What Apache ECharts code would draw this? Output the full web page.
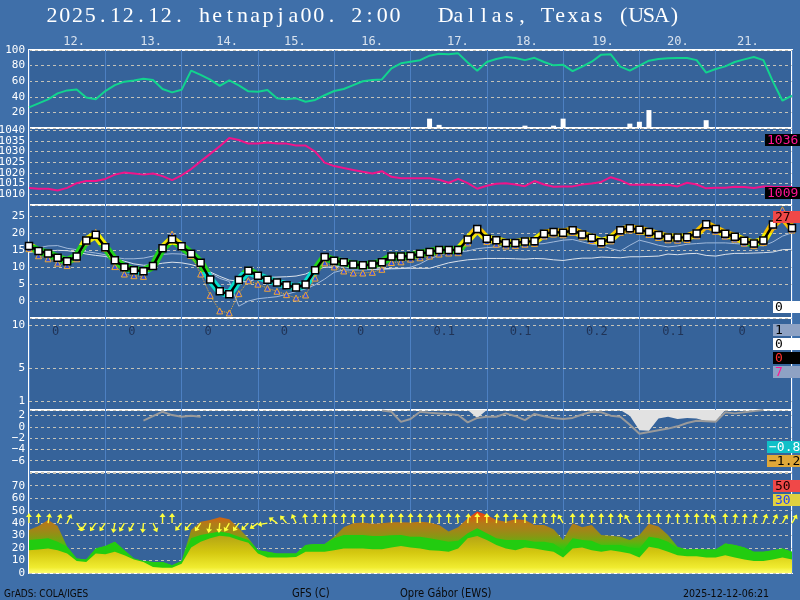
<!DOCTYPE html>
<html><head><meta charset="utf-8">
<script src="https://cdn.jsdelivr.net/npm/echarts@6/dist/echarts.min.js"></script>
<style>html,body{margin:0;padding:0;background:#3f6fa9;}#c{width:800px;height:600px;}</style>
</head><body><div id="c"></div>
<script>
// ---------- data (3-hourly steps, 81 values, hour = step*3) ----------
const humidity = [26.4,31.5,36.7,44.4,48.2,49.5,39,37,47.4,55,
 59.4,61,63,61.5,50,45.7,49,73.5,68,62,
 54,61,54.6,47,46.5,48.7,38,37,38,33.7,
 36,42,47.4,50,55,60,61.5,62.3,76.5,83,
 85,87,92.7,95.3,94.4,95.7,84,73.5,84.6,88.4,
 91,89.7,87,90,84.6,80.3,81,73,78.6,85,
 94,94.4,78.6,73.5,80,86.3,88.4,89.3,89.7,89.7,
 87,71,75.6,79,84.6,88,91,87,59.4,35,41.4];
const precipBarSteps = [42,43,52,55,56,63,64,65,71];
const precipBarValues = [12,4,3,3,12,5.6,8,23,10];
const pressure = [1012.9,1012.6,1012.6,1011.8,1013,1015.2,1016.2,1016.2,1017.2,1019.2,
 1020.2,1019.7,1019.2,1019.7,1018.5,1016.6,1018.9,1021.8,1025.4,1028.9,
 1032.5,1036.3,1035.4,1033.7,1033.7,1034.2,1033.8,1033.7,1032.8,1032.8,
 1030,1024.8,1023.2,1022.3,1021.4,1020.5,1019.7,1020.8,1018.2,1017.5,
 1017.5,1017.5,1017.5,1016.8,1015.4,1017.2,1015.2,1012.6,1014,1014.9,
 1015.2,1014.6,1013.8,1016.2,1014.6,1013.5,1013.7,1013.7,1014.6,1015.1,
 1015.8,1018,1016.6,1014.5,1014.5,1014.6,1014.2,1014.5,1013.7,1015.4,
 1014.6,1012.8,1013.1,1013.1,1013.5,1013.4,1012.9,1013.7,1013.5,1013.4,1013.4];
const tempMain = [16.3,14.8,14.1,12.8,11.8,13.2,17.9,19.6,15.9,12.1,
 10,9.1,8.8,10.4,15.6,18.3,16.2,14,11.3,6.4,
 2.9,2,6.2,9,7.5,6.3,5.5,4.7,4,4.9,
 9.1,13,11.9,11.5,10.8,10.6,10.8,11.5,13.2,13.2,
 13.3,14,14.5,15.1,15.1,15.1,18.2,21.3,18.4,18,
 17.2,17.2,17.6,17.7,19.9,20.4,20.2,20.9,19.7,18.7,
 17.4,18.4,20.9,21.5,21.1,20.4,19.5,18.8,18.8,18.9,
 20,22.7,21.3,19.9,19,17.8,17,17.9,22.6,25,21.6];
const tempLow = [15.5,13.4,12.5,11.2,10.5,12.5,17.5,20.3,15.6,10.2,
 8,7.5,7.3,10.5,16,19.8,16.4,13.5,8,1.7,
 -2.9,-3.5,2.2,6,5,3.8,2.9,1.9,0.9,1.8,
 6.8,11.3,10.1,8.9,8.3,8.3,8.5,9.4,11.4,11.6,
 12.4,12.8,13.3,13.9,14.2,14.3,17.2,20.8,17.6,16.8,
 16.3,16.4,16.8,17,19.2,19.8,19.6,20.3,19,17.9,
 16.8,17.8,20.3,21,20.6,19.7,18.8,18.1,18,18.2,
 19.3,22.1,20.6,19.2,18.3,17.1,16.4,17.3,22.1,27,21];
const tempLineA = [15.1,15.8,16.3,16.4,15.6,15.2,14.6,14.2,13.7,12.9,
 12.5,12.5,12.7,13.3,13.8,14,13.9,13.2,11.5,8.3,
 6.7,5.8,-1.5,0,0.7,1,1.3,2,2.8,3.6,
 4.8,6.5,8.5,9.2,9.2,9.2,9.3,9.4,9.5,9.6,
 10,11,12.5,13.5,14.3,14.5,14.8,15.5,15.8,16,
 16.2,16.3,16.5,16.8,17,17.5,18,18.2,17.5,16.8,
 16.5,15.5,14.8,16.5,18,17.3,16.5,16,16.3,16.8,
 17,17.2,17.2,17.2,17,16.8,16.5,16.3,17.5,19.2,20.2];
const tempLineB = [14.4,14.6,14.8,15,14.9,14.5,13.9,13.5,13.2,12.5,
 11.8,11,10.6,10.7,11.2,11.5,11.3,10.8,10,8.6,
 7.3,6.2,5.9,5.6,6.9,7,7.1,7.2,7.4,8,
 9.3,10,10.1,10.2,9.8,9.5,9.5,9.5,9.7,9.7,
 9.7,9.7,9.7,10.5,11.3,11.8,12.2,12.4,12.6,12.6,
 12.6,12.5,12.4,12.6,12.5,12.2,12,12.4,12.7,12.7,
 13,12.9,12.8,13.1,13.1,13.2,13.3,13.9,13.7,14,
 14.1,13.5,13.3,13.8,14.1,14.1,14.2,14.3,14.5,15.2,15.3];
const dailyPrecip = ['0','0','0','0','0','0.1','0.1','0.2','0.1','0'];
const dayLabels = ['12.','13.','14.','15.','16.','17.','18.','19.','20.','21.'];
const dayLabelHours = [14.2,38.4,62.3,83.6,107.9,134.9,156.6,180.5,204.1,226.1];
const N = null;
const indexLine = [N,N,N,N,N,N,N,N,N,N, N,N,1.1,1.9,2.7,2.1,1.8,2.0,1.8,N,
 N,N,N,N,N,N,N,N,N,N, N,N,N,N,N,N,N,2.9,2.7,0.9,
 1.4,2.7,2.5,2.4,2.3,2.1,0.8,1.6,1.8,1.8, 2.4,1.9,1.2,2.3,1.9,1.6,1.4,1.6,2.2,2.7,
 2.6,2.0,1.8,0.4,-1.2,-0.9,-0.6,-0.3,0.1,0.7, 1.1,1.0,0.9,2.6,2.4,2.6,2.8,3.0,N,N,N];
const cloudEdge = [N,N,N,N,N,N,N,N,N,N, N,N,N,N,N,N,N,N,N,N,
 N,N,N,N,N,N,N,N,N,N, N,N,N,N,N,N,N,N,N,N,
 N,N,N,N,N,N,3,1.6,3,N, N,N,N,N,N,N,N,N,N,N,
 N,N,3,2.0,-0.6,-0.7,1.5,1.8,1.4,1.6, 1.5,1.0,1.0,3,N,N,N,N,N,N,N];
const windTop = [34.5,37.7,42.6,37.7,21.0,11.6,10.8,19.7,21.6,25.1,
 18.3,11.6,9.7,8.9,8.9,6.2,9.7,34.5,41.2,42.6,
 44.7,43.1,35.8,27.8,18.3,17.0,15.6,15.6,15.6,22.4,
 23.2,23.2,29.1,36.7,39.9,40.4,39.4,39.9,40.7,40.7,
 40.4,41.2,40.4,38.5,33.2,36.7,43.9,49.3,46.6,42.6,
 41.2,43.1,42.6,38.5,38.5,35.0,26.4,39.9,36.7,38.5,
 30.5,29.9,29.1,26.4,30.5,39.4,37.2,30.5,21.0,18.9,
 19.1,18.9,18.9,23.7,22.4,20.5,17.0,17.0,18.3,19.7,17.0];
const windGreen = [26.4,27.0,27.8,25.1,21.0,11.6,10.8,19.7,21.6,25.1,
 18.3,11.6,9.7,8.9,8.9,6.2,9.7,27.8,30.5,31.8,
 33.2,31.8,29.1,26.4,18.3,17.0,15.6,15.6,15.6,22.4,
 23.2,23.2,27.8,30.5,30.5,30.5,29.6,29.6,30.2,30.5,
 29.1,29.1,27.8,26.4,25.1,25.9,31.8,35.8,31.8,27.8,
 26.4,26.4,26.4,25.1,25.1,23.7,18.3,27.8,26.4,25.9,
 22.4,22.4,22.4,20.5,19.7,29.1,27.8,25.1,19.7,18.9,
 19.1,18.9,18.9,23.7,22.4,20.5,17.0,17.0,18.3,19.7,17.0];
const windYellow = [18.3,18.9,19.7,18.3,15.6,9.7,8.9,15.6,15.1,17.0,
 14.3,10.8,8.9,4.9,4.3,4.3,7.5,20.5,25.1,27.8,
 29.9,29.1,26.4,24.3,15.6,12.4,12.4,12.4,12.9,17.0,
 17.0,17.0,18.3,19.7,19.7,19.7,19.1,19.1,20.5,21.6,
 20.5,19.7,18.3,17.8,17.0,19.7,27.8,29.6,26.4,22.4,
 19.7,18.3,20.5,19.7,18.3,17.0,12.4,19.7,20.5,18.3,
 17.0,18.3,17.0,15.6,12.4,21.0,19.7,17.0,14.3,13.5,
 13.5,12.4,12.4,14.3,12.4,10.8,9.7,9.7,10.8,12.4,10.8];
const windDir = [0,0,10,20,25,145,215,215,215,190,
 210,210,185,155,0,0,220,220,215,190,
 185,210,215,225,235,260,305,320,335,355,
 0,0,0,0,0,0,0,0,0,0,
 0,0,5,0,0,355,5,0,0,5,
 0,0,0,5,0,0,330,0,0,0,
 0,0,0,330,0,0,0,5,0,0,
 0,0,335,0,5,5,10,20,25,30,30];
const humTicks = [20,40,60,80,100];
const presTicks = [1005,1010,1015,1020,1025,1030,1035,1040];
const tempTicks = [0,5,10,15,20,25];
const precTicks = [1,5,10];
const idxTicks = [-6,-4,-2,0,2];
const windTicks = [0,10,20,30,40,50,60,70];
const titleText = '2025.12.12. hetnapja00. 2:00   Dallas, Texas (USA)';

// ---------- chart ----------
const xy = arr => arr.map((v, i) => [i * 3, v]);
const PLOT_BG = '#36639a';
const GRID_LINE = { color: '#c4c2b8', type: [3, 3], width: 1 };
const FONT = '"DejaVu Sans Mono", monospace';
const grids = [[50,78],[128,77],[205,113],[318,92],[410,62],[472,101]].map(([t,h]) => ({
  left: 29, right: 8, top: t, height: h, show: true, backgroundColor: PLOT_BG,
  borderColor: '#ffffff', borderWidth: 2, containLabel: false, outerBoundsMode: 'none'
}));
const xAxes = grids.map((g, k) => ({
  type: 'value', gridIndex: k, min: 0, max: 240, interval: 24,
  axisLabel: { show: false }, axisTick: { show: false }, axisLine: { show: false },
  splitLine: { show: true, lineStyle: { color: '#4d80c2', width: 1 } }
}));
function yAx(k, min, max, interval, ticks, split) {
  return {
    type: 'value', gridIndex: k, min, max, interval,
    axisLine: { show: false }, axisTick: { show: false },
    splitLine: { show: split, lineStyle: GRID_LINE },
    axisLabel: { color: '#ffffff', fontFamily: FONT, fontSize: 11, margin: 4,
      formatter: v => ticks.some(t => Math.abs(t - v) < 1e-6) ? String(v).replace('-', '\u2212') : '' }
  };
}
const yAxes = [
  yAx(0, 0, 100, 20, humTicks, true),
  yAx(1, 1005, 1041, 5, presTicks, true),
  yAx(2, -5, 28.4, 5, tempTicks, true),
  yAx(3, 0, 10.9, 1, precTicks, false),
  yAx(4, -8, 3, 2, idxTicks, true),
  yAx(5, 0, 81, 10, windTicks, true)
];
const brownGrad = new echarts.graphic.LinearGradient(0, 472, 0, 573, [
  {offset:0,color:'#f03a10'},{offset:0.40,color:'#f03a10'},{offset:0.455,color:'#d06410'},
  {offset:0.506,color:'#b47a18'},{offset:0.568,color:'#a48418'},{offset:0.63,color:'#8c9414'},
  {offset:0.691,color:'#68ac10'},{offset:0.753,color:'#30c810'},{offset:1,color:'#30c810'}], true);
const yellowGrad = new echarts.graphic.LinearGradient(0, 0, 0, 1, [
  {offset:0,color:'#b4a414'},{offset:0.45,color:'#d4c810'},{offset:0.85,color:'#f0ec30'},{offset:1,color:'#ffff70'}]);
const ARROW = 'path://M-0.6,10 L0.6,10 L0.6,4 L2.6,4 L0,0 L-2.6,4 L-0.6,4 Z';

const series = [
  { type:'line', xAxisIndex:0, yAxisIndex:0, data: xy(humidity), showSymbol:false, symbol:'none',
    lineStyle:{color:'#12d48e', width:2}, z:3 },
  { type:'bar', xAxisIndex:0, yAxisIndex:0, barWidth:5,
    data: precipBarSteps.map((s, j) => [s * 3, precipBarValues[j]]), itemStyle:{color:'#ffffff'}, z:2 },
  { type:'scatter', xAxisIndex:0, yAxisIndex:0, symbolSize:0, clip:false, silent:true,
    data: dayLabels.map((t, j) => ({ value:[dayLabelHours[j], 110], name:t })),
    label:{ show:true, position:'inside', formatter: p => p.name, color:'#ffffff', fontFamily:FONT, fontSize:12 } },
  { type:'line', xAxisIndex:1, yAxisIndex:1, data: xy(pressure), symbol:'none',
    lineStyle:{color:'#f0148a', width:2} },
  { type:'line', xAxisIndex:2, yAxisIndex:2, data: xy(tempLineA), symbol:'none',
    lineStyle:{color:'#a2badb', width:1}, z:2 },
  { type:'line', xAxisIndex:2, yAxisIndex:2, data: xy(tempLineB), symbol:'none',
    lineStyle:{color:'#dce2ea', width:1}, z:2 },
  { type:'line', xAxisIndex:2, yAxisIndex:2, data: xy(tempMain), symbol:'none',
    lineStyle:{width:8, join:'round', cap:'round'}, z:3 },
  { type:'line', xAxisIndex:2, yAxisIndex:2, data: xy(tempLow), symbol:'triangle', symbolSize:6,
    lineStyle:{color:'#f0a830', width:1, type:'dotted'},
    itemStyle:{color:'#3452e0', borderColor:'#f0a830', borderWidth:1}, z:4 },
  { type:'line', xAxisIndex:2, yAxisIndex:2, data: xy(tempMain), symbol:'rect', symbolSize:7,
    lineStyle:{color:'#000000', width:2.5},
    itemStyle:{color:'#ffffff', borderColor:'#000000', borderWidth:1.5}, z:5 },
  { type:'scatter', xAxisIndex:3, yAxisIndex:3, symbolSize:0, silent:true, clip:false,
    data: dailyPrecip.map((t, j) => ({ value:[7.2 + 24 * j, 9.2], name:t })),
    label:{ show:true, position:[0,0], align:'left', verticalAlign:'middle', formatter:p => p.name,
      color:'#1b2846', fontFamily:FONT, fontSize:12 },
    markLine:{ silent:true, symbol:'none', label:{show:false}, lineStyle:GRID_LINE,
      data: precTicks.map(t => ({ yAxis:t })) } },
  { type:'line', xAxisIndex:4, yAxisIndex:4, data: xy(cloudEdge), symbol:'none',
    lineStyle:{width:0}, areaStyle:{color:'#e2e2e2', origin:'end', opacity:1}, z:2 },
  { type:'line', xAxisIndex:4, yAxisIndex:4, data: xy(indexLine), symbol:'none',
    lineStyle:{color:'#9a9a9a', width:2}, z:3 },
  { type:'line', xAxisIndex:5, yAxisIndex:5, data: xy(windTop), symbol:'none',
    lineStyle:{width:0}, areaStyle:{color:brownGrad, opacity:1}, z:2 },
  { type:'line', xAxisIndex:5, yAxisIndex:5, data: xy(windGreen), symbol:'none',
    lineStyle:{width:0}, areaStyle:{color:'#22cc10', opacity:1}, z:3 },
  { type:'line', xAxisIndex:5, yAxisIndex:5, data: xy(windYellow), symbol:'none',
    lineStyle:{width:0}, areaStyle:{color:yellowGrad, opacity:1}, z:4 },
  { type:'scatter', xAxisIndex:5, yAxisIndex:5, z:6, silent:true, clip:false,
    symbol: ARROW, symbolSize:[6,10], symbolKeepAspect:false,
    itemStyle:{ color:'#ffff3a', opacity:1 },
    data: windDir.map((d, i) => {
      const r = d * Math.PI / 180;
      return { value:[i * 3, 40], symbolRotate:-d, symbolOffset:[Math.sin(r) * 5, -Math.cos(r) * 5] };
    }) }
];

const boxes = [
  ['1036',765,134,'#000000','#ff1493'],['1009',765,187,'#000000','#ff1493'],
  ['27',773,211,'#f04848','#1a0000'],['0',773,301,'#ffffff','#000000'],
  ['1',773,324,'#8ea2c4','#000000'],['0',773,338,'#ffffff','#000000'],
  ['0',773,352,'#000000','#ff3030'],['7',773,366,'#8ea2c4','#ff1493'],
  ['\u22120.8',767,441,'#10c0c8','#ffffff'],['\u22121.2',767,455,'#e0a838','#000000'],
  ['50',773,480,'#f04848','#1a0000'],['30',773,494,'#e0d040','#2040ff']
];
const graphic = [
  { type:'text', x:4, y:594, scaleY:1.15, style:{ text:'GrADS: COLA/IGES', fill:'#0a0a0a', font:'9px "DejaVu Sans"', verticalAlign:'middle' } },
  { type:'text', x:292, y:594, scaleY:1.15, style:{ text:'GFS (C)', fill:'#0a0a0a', font:'10px "DejaVu Sans"', verticalAlign:'middle' } },
  { type:'text', x:400, y:594, scaleY:1.15, style:{ text:'Opre Gábor (EWS)', fill:'#0a0a0a', font:'10px "DejaVu Sans"', verticalAlign:'middle' } },
  { type:'text', x:683, y:594, scaleY:1.15, style:{ text:'2025-12-12-06:21', fill:'#0a0a0a', font:'9.5px "DejaVu Sans"', verticalAlign:'middle' } }
];
// title drawn as a monospaced run of serif glyphs
titleText.split('').forEach((ch, k) => {
  if (ch === ' ') return;
  graphic.push({ type:'text', x:45.7 + 12.7 * (k + 0.5), y:16, z:10,
    style:{ text:ch, fill:'#ffffff', font:'22px "Liberation Serif", serif', align:'center', verticalAlign:'middle' } });
});
boxes.forEach(([t, x, y, bg, fg]) => {
  graphic.push({ type:'rect', x, y, z:20, shape:{x:0, y:0, width:800 - x, height:12}, style:{fill:bg} });
  graphic.push({ type:'text', x:x + 2, y:y + 6.5, z:21, style:{ text:t, fill:fg, font:'13px "DejaVu Sans Mono"', verticalAlign:'middle' } });
});

const chart = echarts.init(document.getElementById('c'), null, { renderer:'canvas' });
chart.setOption({
  backgroundColor: '#3f6fa9', animation: false,
  grid: grids, xAxis: xAxes, yAxis: yAxes, series,
  visualMap: [{ type:'piecewise', show:false, seriesIndex:6, dimension:1,
    pieces:[{lt:8.6, color:'#08e0cc'},{gte:8.6, lt:16.5, color:'#22d41c'},{gte:16.5, lt:20, color:'#f2ee00'},{gte:20, color:'#f6c000'}] }],
  graphic
});
</script></body></html>
